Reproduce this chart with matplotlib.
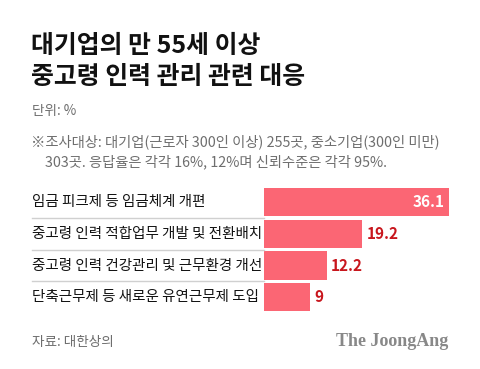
import matplotlib
matplotlib.use("Agg")
import matplotlib.pyplot as plt
from matplotlib.transforms import blended_transform_factory
from matplotlib.lines import Line2D

plt.rcParams['font.family'] = ['Noto Sans CJK KR', 'DejaVu Sans']

categories = [
    "임금 피크제 등 임금체계 개편",
    "중고령 인력 적합업무 개발 및 전환배치",
    "중고령 인력 건강관리 및 근무환경 개선",
    "단축근무제 등 새로운 유연근무제 도입",
]
values = [36.1, 19.2, 12.2, 9]
value_labels = ["36.1", "19.2", "12.2", "9"]

title = "대기업의 만 55세 이상\n중고령 인력 관리 관련 대응"
unit = "단위: %"
note1 = "※조사대상: 대기업(근로자 300인 이상) 255곳, 중소기업(300인 미만)"
note2 = "303곳. 응답율은 각각 16%, 12%며 신뢰수준은 각각 95%."
source = "자료: 대한상의"
brand = "The JoongAng"

W, H = 480, 369
fig = plt.figure(figsize=(W / 100, H / 100), dpi=100)
fig.patch.set_facecolor("white")

def fx(px):
    return px / W

def fy(py):
    return 1 - py / H

bar_color = "#fb6674"
red_text = "#c8161d"
gray = "#6e6e6e"

top_px, bot_px = 186.5, 313.0
ax = fig.add_axes([fx(264), fy(bot_px), fx(449) - fx(264), (bot_px - top_px) / H])
ypos = list(range(len(categories)))
ax.barh(ypos, values, height=0.89, color=bar_color, edgecolor="none")
ax.set_xlim(0, max(values))
ax.set_ylim(len(categories) - 0.5, -0.5)
ax.axis("off")

for i, (v, lab) in enumerate(zip(values, value_labels)):
    if v == max(values):
        ax.text(v - 0.8, i, lab, ha="right", va="center", color="white",
                fontsize=11, fontweight="bold")
    else:
        ax.text(v + 0.8, i, lab, ha="left", va="center", color=red_text,
                fontsize=11, fontweight="bold")

trans = blended_transform_factory(fig.transFigure, ax.transData)
for i, cat in enumerate(categories):
    fig.text(fx(32), i, cat, transform=trans, ha="left", va="center",
             fontsize=10.45, fontweight="medium", color="#111111")
for i in range(len(categories) - 1):
    ln = Line2D([fx(32), fx(264)], [i + 0.5, i + 0.5], transform=trans,
                color="#d0d0d0", linewidth=1.0)
    fig.add_artist(ln)

fig.text(fx(31), fy(46), title.split("\n")[0], ha="left", va="center",
         fontsize=17.9, fontweight="bold", color="#111111")
fig.text(fx(31), fy(77), title.split("\n")[1], ha="left", va="center",
         fontsize=17.9, fontweight="bold", color="#111111")
fig.text(fx(32), fy(111), unit, ha="left", va="center", fontsize=9.8, color=gray)
fig.text(fx(31), fy(142), note1, ha="left", va="center", fontsize=10.3, color=gray)
fig.text(fx(45), fy(162), note2, ha="left", va="center", fontsize=10.3, color=gray)
fig.text(fx(32), fy(342), source, ha="left", va="center", fontsize=9.8, color=gray)
fig.text(fx(448), fy(342), brand, ha="right", va="center", fontsize=13,
         fontweight="bold", color="#888888", family="Liberation Serif")

fig.savefig("out.png", dpi=100, facecolor="white")
